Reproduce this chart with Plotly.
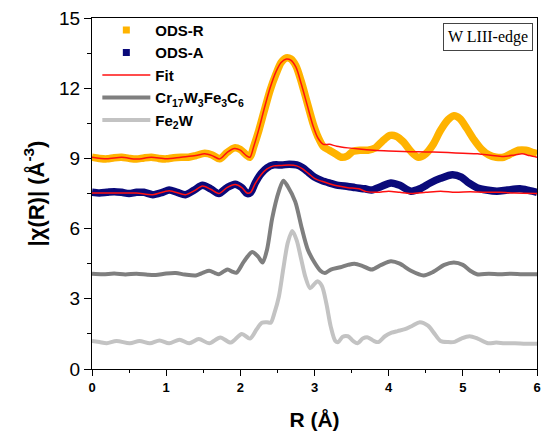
import plotly.graph_objects as go

# ---------------- data ----------------
r_odsr = [0.00, 0.10, 0.20, 0.30, 0.40, 0.50, 0.60, 0.70, 0.80, 0.90, 1.00, 1.10, 1.20, 1.30, 1.40, 1.52, 1.62, 1.72,
          1.82, 1.92, 2.00, 2.08, 2.13, 2.18, 2.25, 2.32, 2.40, 2.48, 2.55, 2.62, 2.68, 2.75, 2.82, 2.90, 2.98, 3.05,
          3.12, 3.20, 3.28, 3.36, 3.44, 3.52, 3.62, 3.72, 3.82, 3.92, 4.02, 4.10, 4.20, 4.30, 4.40, 4.50, 4.60, 4.70,
          4.80, 4.88, 4.96, 5.05, 5.15, 5.25, 5.35, 5.45, 5.55, 5.65, 5.75, 5.85, 5.95, 6.00]
y_odsr = [9.05, 9.00, 8.98, 9.03, 9.05, 9.00, 8.97, 9.02, 9.05, 9.00, 8.98, 9.03, 9.05, 9.05, 9.12, 9.22, 9.15, 8.98,
          9.25, 9.45, 9.38, 9.15, 9.05, 9.50, 10.20, 11.00, 11.90, 12.60, 13.10, 13.30, 13.25, 12.95, 12.30, 11.40,
          10.50, 9.90, 9.50, 9.35, 9.20, 9.05, 9.10, 9.30, 9.35, 9.35, 9.45, 9.75, 9.98, 9.95, 9.70, 9.30, 9.05,
          9.20, 9.60, 10.20, 10.65, 10.82, 10.70, 10.30, 9.80, 9.40, 9.15, 9.05, 9.05, 9.20, 9.35, 9.35, 9.25, 9.20]

r_fitr = [0.00, 0.20, 0.40, 0.60, 0.80, 1.00, 1.20, 1.40, 1.52, 1.62, 1.72, 1.82, 1.92, 2.00, 2.08, 2.13, 2.18, 2.25,
          2.32, 2.40, 2.48, 2.55, 2.62, 2.68, 2.75, 2.82, 2.90, 2.98, 3.05, 3.12, 3.20, 3.30, 3.45, 3.60, 3.80, 4.00,
          4.20, 4.40, 4.60, 4.80, 5.00, 5.20, 5.40, 5.55, 5.70, 5.80, 5.90, 6.00]
y_fitr = [9.05, 8.98, 9.05, 8.97, 9.05, 8.98, 9.05, 9.12, 9.20, 9.12, 8.98, 9.25, 9.42, 9.35, 9.12, 9.05, 9.50, 10.25,
          11.10, 12.00, 12.70, 13.10, 13.25, 13.20, 12.90, 12.20, 11.30, 10.40, 9.85, 9.60, 9.60, 9.52, 9.45, 9.40,
          9.35, 9.32, 9.30, 9.28, 9.27, 9.25, 9.22, 9.20, 9.12, 9.08, 9.15, 9.20, 9.12, 9.05]

r_odsa = [0.00, 0.10, 0.20, 0.30, 0.40, 0.50, 0.60, 0.70, 0.82, 0.95, 1.04, 1.15, 1.26, 1.38, 1.49, 1.60, 1.71, 1.82,
          1.93, 2.02, 2.09, 2.14, 2.20, 2.28, 2.36, 2.45, 2.56, 2.66, 2.76, 2.84, 2.92, 3.00, 3.10, 3.20, 3.32, 3.45,
          3.55, 3.68, 3.77, 3.90, 4.03, 4.15, 4.30, 4.42, 4.56, 4.70, 4.86, 4.98, 5.08, 5.19, 5.32, 5.46, 5.60, 5.77,
          5.90, 6.00]
y_odsa = [7.55, 7.52, 7.55, 7.58, 7.55, 7.50, 7.55, 7.55, 7.45, 7.55, 7.65, 7.55, 7.45, 7.65, 7.85, 7.70, 7.50, 7.75,
          7.90, 7.75, 7.50, 7.55, 7.95, 8.35, 8.60, 8.72, 8.72, 8.75, 8.72, 8.60, 8.40, 8.20, 8.05, 7.95, 7.85, 7.80,
          7.75, 7.70, 7.65, 7.80, 7.95, 7.85, 7.60, 7.70, 7.95, 8.15, 8.30, 8.20, 7.95, 7.75, 7.65, 7.60, 7.65, 7.70,
          7.62, 7.55]

r_fita = [0.00, 0.20, 0.40, 0.60, 0.82, 1.04, 1.26, 1.38, 1.49, 1.60, 1.71, 1.82, 1.93, 2.02, 2.09, 2.14, 2.20, 2.28,
          2.36, 2.45, 2.56, 2.66, 2.76, 2.84, 2.92, 3.00, 3.10, 3.20, 3.32, 3.45, 3.60, 3.70, 3.85, 4.00, 4.15, 4.30,
          4.50, 4.70, 4.90, 5.10, 5.30, 5.50, 5.70, 6.00]
y_fita = [7.52, 7.52, 7.52, 7.52, 7.45, 7.62, 7.45, 7.62, 7.82, 7.68, 7.50, 7.75, 7.88, 7.75, 7.52, 7.55, 7.92, 8.30,
          8.55, 8.68, 8.70, 8.72, 8.68, 8.55, 8.35, 8.15, 8.02, 7.92, 7.82, 7.75, 7.70, 7.58, 7.55, 7.60, 7.55, 7.50,
          7.55, 7.60, 7.55, 7.58, 7.55, 7.55, 7.52, 7.50]

r_cr = [0.00, 0.15, 0.30, 0.45, 0.60, 0.75, 0.86, 1.00, 1.13, 1.25, 1.40, 1.50, 1.58, 1.66, 1.71, 1.78, 1.83, 1.90,
        1.95, 2.05, 2.16, 2.24, 2.30, 2.36, 2.43, 2.52, 2.58, 2.64, 2.74, 2.83, 2.91, 3.00, 3.08, 3.14, 3.22, 3.35,
        3.45, 3.54, 3.65, 3.77, 3.90, 4.03, 4.15, 4.30, 4.47, 4.60, 4.75, 4.88, 5.00, 5.10, 5.19, 5.35, 5.50, 5.65,
        5.80, 6.00]
y_cr = [4.07, 4.05, 4.08, 4.04, 4.07, 4.03, 4.02, 4.08, 4.10, 4.04, 4.00, 4.12, 4.20, 4.10, 4.05, 4.18, 4.25, 4.15,
        4.12, 4.60, 5.00, 4.80, 4.55, 5.10, 6.45, 7.60, 8.05, 7.80, 7.15, 6.00, 5.10, 4.55, 4.20, 4.10, 4.25, 4.35,
        4.45, 4.50, 4.40, 4.25, 4.45, 4.60, 4.50, 4.20, 4.00, 4.15, 4.45, 4.55, 4.45, 4.20, 4.05, 4.07, 4.05, 4.07,
        4.05, 4.05]

r_fe = [0.00, 0.10, 0.20, 0.33, 0.51, 0.64, 0.78, 0.91, 1.04, 1.18, 1.31, 1.44, 1.58, 1.73, 1.87, 2.02, 2.13, 2.22,
        2.29, 2.36, 2.41, 2.46, 2.52, 2.58, 2.64, 2.70, 2.76, 2.82, 2.88, 2.94, 2.99, 3.04, 3.10, 3.16, 3.22, 3.28,
        3.32, 3.38, 3.45, 3.52, 3.58, 3.65, 3.72, 3.80, 3.86, 3.95, 4.04, 4.12, 4.22, 4.32, 4.42, 4.53, 4.62, 4.70,
        4.80, 4.89, 4.98, 5.09, 5.20, 5.34, 5.45, 5.56, 5.70, 5.85, 6.00]
y_fe = [1.20, 1.15, 1.10, 1.20, 1.10, 1.20, 1.10, 1.22, 1.10, 1.25, 1.10, 1.28, 1.10, 1.35, 1.13, 1.50, 1.30, 1.70,
        1.98, 2.00, 1.98, 2.40, 3.10, 4.30, 5.40, 5.90, 5.50, 4.70, 3.90, 3.45, 3.60, 3.75, 3.55, 2.80, 1.80, 1.20,
        1.15, 1.38, 1.40, 1.20, 1.10, 1.30, 1.35, 1.20, 1.15, 1.40, 1.55, 1.62, 1.70, 1.85, 2.00, 1.85, 1.50, 1.20,
        1.15, 1.16, 1.30, 1.40, 1.30, 1.10, 1.13, 1.10, 1.10, 1.08, 1.08]

names = ["<b>ODS-R</b>", "<b>ODS-A</b>", "<b>Fit</b>",
         "<b>Cr<sub>17</sub>W<sub>3</sub>Fe<sub>3</sub>C<sub>6</sub></b>", "<b>Fe<sub>2</sub>W</b>"]

C_R = "#FFB300"
C_A = "#0A0A7A"
C_FIT = "#FF1010"
C_CR = "#7F7F7F"
C_FE = "#C3C3C3"

fig = go.Figure()
# curves
fig.add_trace(go.Scatter(x=r_fe, y=y_fe, mode="lines", name=names[4], legendrank=5,
                         line=dict(color=C_FE, width=4, shape="spline", smoothing=0.8)))
fig.add_trace(go.Scatter(x=r_cr, y=y_cr, mode="lines", name=names[3], legendrank=4,
                         line=dict(color=C_CR, width=4, shape="spline", smoothing=0.8)))
fig.add_trace(go.Scatter(x=r_odsa, y=y_odsa, mode="lines", showlegend=False,
                         line=dict(color=C_A, width=7.5, shape="spline", smoothing=0.8)))
fig.add_trace(go.Scatter(x=r_odsr, y=y_odsr, mode="lines", showlegend=False,
                         line=dict(color=C_R, width=7.5, shape="spline", smoothing=0.8)))
fig.add_trace(go.Scatter(x=r_fita, y=y_fita, mode="lines", showlegend=False,
                         line=dict(color=C_FIT, width=1.5, shape="spline", smoothing=0.8)))
fig.add_trace(go.Scatter(x=r_fitr, y=y_fitr, mode="lines", name=names[2], legendrank=3,
                         line=dict(color=C_FIT, width=1.5, shape="spline", smoothing=0.8)))
# legend entries for the square-marker series
fig.add_trace(go.Scatter(x=[None], y=[None], mode="markers", name=names[0], legendrank=1,
                         marker=dict(symbol="square", size=7, color=C_R)))
fig.add_trace(go.Scatter(x=[None], y=[None], mode="markers", name=names[1], legendrank=2,
                         marker=dict(symbol="square", size=7, color=C_A)))

axis_common = dict(showline=True, linecolor="black", linewidth=1.3, mirror=True,
                   ticks="outside", tickcolor="black", showgrid=False, zeroline=False)

fig.update_xaxes(range=[0, 6], dtick=1, ticklen=6, tickwidth=1.3,
                 minor=dict(dtick=0.5, ticks="outside", ticklen=3, tickcolor="black", tickwidth=1.3),
                 tickfont=dict(size=13, color="black", family="Liberation Sans, Arial"),
                 tickprefix="<b>", ticksuffix="</b>",
                 title=dict(text="<b>R (Å)</b>", font=dict(size=21, color="black"), standoff=18),
                 **axis_common)
fig.update_yaxes(range=[0, 15], dtick=3, ticklen=7, tickwidth=1.3,
                 minor=dict(dtick=1.5, ticks="outside", ticklen=4, tickcolor="black", tickwidth=1.3),
                 tickfont=dict(size=19, color="black", family="Liberation Sans, Arial"),
                 title=dict(text="<b>|χ(R)| (Å<sup>-3</sup>)</b>", font=dict(size=22, color="black"), standoff=8),
                 **axis_common)

fig.add_annotation(xref="paper", yref="paper", x=0.991, y=0.986, xanchor="right", yanchor="top",
                   text="W LIII-edge", showarrow=False,
                   font=dict(family="Liberation Serif, Times New Roman", size=16, color="black"),
                   bordercolor="#444444", borderwidth=1, borderpad=4, bgcolor="white")

fig.update_layout(
    width=549, height=441,
    margin=dict(l=92, r=8, t=15, b=72),
    paper_bgcolor="white", plot_bgcolor="white",
    font=dict(family="Liberation Sans, Arial", color="black"),
    legend=dict(x=0.012, y=1.012, xanchor="left", yanchor="top", bgcolor="rgba(0,0,0,0)",
                font=dict(size=15, color="black"), tracegroupgap=0, itemwidth=48,
                traceorder="normal"),
)

fig.write_html("out.html")
